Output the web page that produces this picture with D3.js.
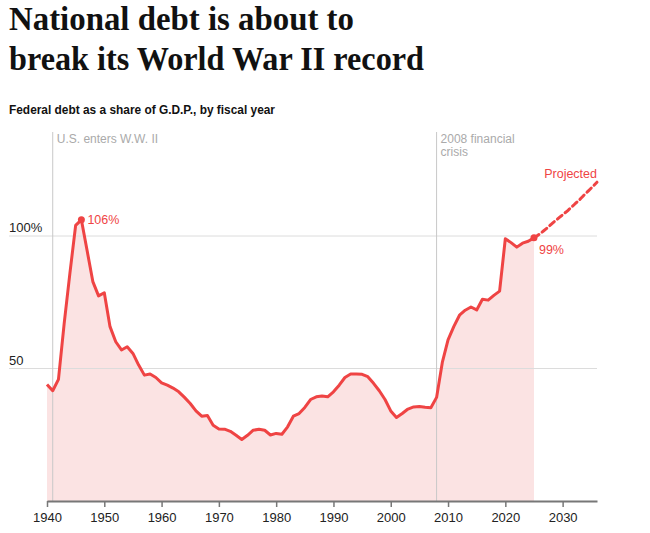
<!DOCTYPE html>
<html>
<head>
<meta charset="utf-8">
<script src="https://cdn.jsdelivr.net/npm/d3@7"></script>
<style>
  body { margin: 0; background: #fff; }
  svg { display: block; }
</style>
</head>
<body>
<svg id="chart"></svg>
<script>
// federal debt held by the public, % of GDP, fiscal years 1940-2025
const firstYear = 1940;
const debtShare = [
  44.0, 41.6, 45.9, 67.0, 86.0, 104.0, 106.1, 94.5, 82.8, 77.4,
  78.6, 65.8, 60.1, 57.0, 58.2, 55.7, 51.3, 47.5, 47.9, 46.6,
  44.6, 43.7, 42.6, 41.2, 39.1, 36.8, 34.0, 32.0, 32.3, 28.6,
  27.2, 27.1, 26.3, 24.8, 23.2, 24.8, 26.7, 27.1, 26.7, 24.9,
  25.5, 25.2, 28.0, 32.0, 33.0, 35.3, 38.3, 39.3, 39.6, 39.3,
  41.2, 43.7, 46.6, 47.9, 47.9, 47.8, 46.9, 44.4, 41.6, 38.3,
  34.0, 31.5, 33.0, 34.7, 35.5, 35.7, 35.4, 35.2, 39.1, 52.3,
  60.8, 65.8, 70.1, 72.0, 73.2, 72.1, 76.1, 75.8, 77.6, 79.2,
  99.0, 97.5, 95.8, 97.3, 98.0, 99.3
];
// projection, 2025 onward
const projYears = [2025, 2026, 2027, 2028, 2029, 2030, 2031, 2032, 2033, 2034, 2035, 2036];
const projShare = [99.3, 100.8, 102.5, 104.4, 106.2, 108.0, 109.8, 111.8, 113.8, 116.0, 118.1, 120.3];

const xTicks = [1940, 1950, 1960, 1970, 1980, 1990, 2000, 2010, 2020, 2030];
const yTicks = [50, 100];
const yTickLabels = ["50", "100%"];
const events = [
  { year: 1941, lines: ["U.S. enters W.W. II"] },
  { year: 2008, lines: ["2008 financial", "crisis"] }
];
const peak = { year: 1946, label: "106%" };
const latest = { year: 2025, label: "99%" };

const RED = "#ef4444";
const W = 650, H = 533;

const svg = d3.select("#chart").attr("width", W).attr("height", H);

const x = d3.scaleLinear().domain([1940, 2036]).range([47, 597]);
const y = d3.scaleLinear().domain([0, 100]).range([501, 236]);

const hist = debtShare.map((v, i) => ({ year: firstYear + i, v: v }));
const proj = projYears.map((yr, i) => ({ year: yr, v: projShare[i] }));

// title
const title = svg.append("g").attr("font-family", "Liberation Serif, serif")
  .attr("font-weight", "bold").attr("fill", "#111");
title.append("text").attr("x", 9).attr("y", 30).attr("font-size", 33)
  .attr("textLength", 345).attr("lengthAdjust", "spacingAndGlyphs")
  .text("National debt is about to");
title.append("text").attr("x", 9).attr("y", 70).attr("font-size", 33)
  .attr("textLength", 415).attr("lengthAdjust", "spacingAndGlyphs")
  .text("break its World War II record");

svg.append("text").attr("x", 9).attr("y", 114)
  .attr("font-family", "Liberation Sans, Arial, sans-serif")
  .attr("font-size", 13).attr("font-weight", 600).attr("fill", "#111")
  .attr("textLength", 266).attr("lengthAdjust", "spacingAndGlyphs")
  .text("Federal debt as a share of G.D.P., by fiscal year");

// area under historical line
svg.append("path").datum(hist)
  .attr("fill", "#fbe3e3")
  .attr("d", d3.area().x(d => x(d.year)).y0(y(0)).y1(d => y(d.v)));

// gridlines
const grid = svg.append("g");
grid.selectAll("line").data(yTicks).join("line")
  .attr("x1", 9).attr("x2", 597)
  .attr("y1", d => y(d)).attr("y2", d => y(d))
  .attr("stroke", "#dcdcdc").attr("stroke-width", 1);
grid.selectAll("text").data(yTicks).join("text")
  .attr("x", 9).attr("y", d => y(d) - 4)
  .attr("font-family", "Liberation Sans, Arial, sans-serif")
  .attr("font-size", 13).attr("fill", "#222")
  .text((d, i) => yTickLabels[i]);

// event markers
const ev = svg.append("g").selectAll("g").data(events).join("g");
ev.append("line")
  .attr("x1", d => x(d.year)).attr("x2", d => x(d.year))
  .attr("y1", 132).attr("y2", y(0))
  .attr("stroke", "#c8c8c8").attr("stroke-width", 1);
ev.each(function(d) {
  const t = d3.select(this).append("text")
    .attr("font-family", "Liberation Sans, Arial, sans-serif")
    .attr("font-size", 12).attr("fill", "#aaa");
  d.lines.forEach((ln, i) => {
    t.append("tspan").attr("x", x(d.year) + 4).attr("y", 143 + i * 12.5).text(ln);
  });
});

// x axis
const xAxis = svg.append("g").attr("transform", `translate(0,${y(0)})`)
  .call(d3.axisBottom(x).tickValues(xTicks).tickFormat(d3.format("d")).tickSize(6).tickSizeOuter(0));
xAxis.select(".domain").attr("stroke", "#777").attr("stroke-width", 2);
xAxis.selectAll(".tick line").attr("stroke", "#777").attr("stroke-width", 1.5);
xAxis.selectAll(".tick text")
  .attr("font-family", "Liberation Sans, Arial, sans-serif")
  .attr("font-size", 13).attr("fill", "#222").attr("dy", "0.95em");

// lines
svg.append("path").datum(proj)
  .attr("fill", "none").attr("stroke", RED).attr("stroke-width", 3)
  .attr("stroke-dasharray", "6,4").attr("stroke-linecap", "round")
  .attr("d", d3.line().x(d => x(d.year)).y(d => y(d.v)).curve(d3.curveMonotoneX));

svg.append("path").datum(hist)
  .attr("fill", "none").attr("stroke", RED).attr("stroke-width", 3)
  .attr("stroke-linejoin", "round")
  .attr("d", d3.line().x(d => x(d.year)).y(d => y(d.v)));

// highlighted points
const pts = [
  { p: peak, dx: 6, dy: 4 },
  { p: latest, dx: 5, dy: 16 }
];
pts.forEach(o => {
  const v = debtShare[o.p.year - firstYear];
  svg.append("circle").attr("cx", x(o.p.year)).attr("cy", y(v)).attr("r", 3.5).attr("fill", RED);
  svg.append("text").attr("x", x(o.p.year) + o.dx).attr("y", y(v) + o.dy)
    .attr("font-family", "Liberation Sans, Arial, sans-serif")
    .attr("font-size", 12.5).attr("fill", RED)
    .text(o.p.label);
});

svg.append("text").attr("x", 597).attr("y", 178).attr("text-anchor", "end")
  .attr("font-family", "Liberation Sans, Arial, sans-serif")
  .attr("font-size", 12.5).attr("fill", RED)
  .text("Projected");
</script>
</body>
</html>
